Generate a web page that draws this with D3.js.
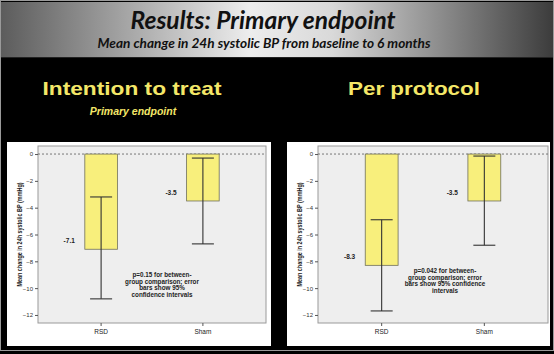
<!DOCTYPE html>
<html>
<head>
<meta charset="UTF-8">
<script src="https://d3js.org/d3.v7.min.js"></script>
<style>
  body { margin: 0; background: #000; }
  svg { display: block; }
  .tick text { font-family: "Liberation Sans", Arial, sans-serif; }
</style>
</head>
<body>
<svg width="554" height="354"></svg>
<script>
// Categories and values
const groups = ["RSD", "Sham"];
const ittMeans = [-7.1, -3.5];
const ittLower = [-10.8, -6.7];
const ittUpper = [-3.2, -0.3];
const ppMeans = [-8.3, -3.5];
const ppLower = [-11.7, -6.8];
const ppUpper = [-4.9, -0.15];
const yTicks = [0, -2, -4, -6, -8, -10, -12];

const ittNote = ["p=0.15 for between-", "group comparison; error", "bars show 95%", "confidence intervals"];
const ppNote = ["p=0.042 for between-", "group comparison; error", "bars show 95% confidence", "intervals"];

const svg = d3.select("svg");

// banner gradient
const defs = svg.append("defs");
const grad = defs.append("linearGradient").attr("id", "banner");
grad.append("stop").attr("offset", "0%").attr("stop-color", "#5c5c5c");
grad.append("stop").attr("offset", "45%").attr("stop-color", "#ededed");
grad.append("stop").attr("offset", "60%").attr("stop-color", "#d9d9d9");
grad.append("stop").attr("offset", "100%").attr("stop-color", "#3c3c3c");

svg.append("rect").attr("x", 0).attr("y", 0).attr("width", 554).attr("height", 354).attr("fill", "#000");
svg.append("rect").attr("x", 1).attr("y", 2).attr("width", 552).attr("height", 55).attr("fill", "url(#banner)");
svg.append("line").attr("x1", 0).attr("x2", 554).attr("y1", 57.5).attr("y2", 57.5).attr("stroke", "#222");

svg.append("text")
  .attr("x", 263).attr("y", 29)
  .attr("text-anchor", "middle")
  .attr("textLength", 265).attr("lengthAdjust", "spacingAndGlyphs")
  .style("font-family", "Lato, 'Open Sans', sans-serif")
  .style("font-weight", "bold").style("font-style", "italic")
  .style("font-size", "25px").attr("fill", "#111")
  .text("Results: Primary endpoint");

svg.append("text")
  .attr("x", 264).attr("y", 48)
  .attr("text-anchor", "middle")
  .attr("textLength", 333).attr("lengthAdjust", "spacingAndGlyphs")
  .style("font-family", "Lato, 'Open Sans', sans-serif")
  .style("font-weight", "bold").style("font-style", "italic")
  .style("font-size", "13px").attr("fill", "#111")
  .text("Mean change in 24h systolic BP from baseline to 6 months");

// panel headings
svg.append("text")
  .attr("x", 132).attr("y", 95).attr("text-anchor", "middle")
  .attr("textLength", 179).attr("lengthAdjust", "spacingAndGlyphs")
  .style("font-family", "'Liberation Sans', Arial, sans-serif")
  .style("font-weight", "bold").style("font-size", "19px")
  .attr("fill", "#f4e768")
  .text("Intention to treat");

svg.append("text")
  .attr("x", 133).attr("y", 115).attr("text-anchor", "middle")
  .style("font-family", "'Liberation Sans', Arial, sans-serif")
  .style("font-weight", "bold").style("font-style", "italic").style("font-size", "10.5px")
  .attr("fill", "#f4e768")
  .text("Primary endpoint");

svg.append("text")
  .attr("x", 414).attr("y", 95).attr("text-anchor", "middle")
  .attr("textLength", 132).attr("lengthAdjust", "spacingAndGlyphs")
  .style("font-family", "'Liberation Sans', Arial, sans-serif")
  .style("font-weight", "bold").style("font-size", "19px")
  .attr("fill", "#f4e768")
  .text("Per protocol");

function drawPanel(px, pw, left, right, means, lower, upper, note, noteX, noteY) {
  const top = 146, bottom = 323;
  svg.append("rect").attr("x", px).attr("y", 142).attr("width", pw).attr("height", 204).attr("fill", "#fff");

  const y = d3.scaleLinear().domain([0.6, -12.6]).range([top, bottom]);
  const x = d3.scaleBand().domain(groups).range([left, right])
    .paddingInner(0.68).paddingOuter(0.46);

  svg.append("rect")
    .attr("x", left).attr("y", top).attr("width", right - left).attr("height", bottom - top)
    .attr("fill", "#eeeeee").attr("stroke", "#9a9a9a").attr("stroke-width", 1);

  // zero reference line
  svg.append("line")
    .attr("x1", left).attr("x2", right).attr("y1", y(0)).attr("y2", y(0))
    .attr("stroke", "#777").attr("stroke-dasharray", "2,2");

  const yAxis = svg.append("g")
    .attr("transform", `translate(${left},0)`)
    .call(d3.axisLeft(y).tickValues(yTicks).tickSize(3).tickPadding(2).tickFormat(d3.format("d")));
  yAxis.select(".domain").remove();
  yAxis.selectAll("line").attr("stroke", "#555");
  yAxis.selectAll("text").style("font-size", "6px").attr("fill", "#333");

  const xAxis = svg.append("g")
    .attr("transform", `translate(0,${bottom})`)
    .call(d3.axisBottom(x).tickSize(3).tickPadding(3));
  xAxis.select(".domain").remove();
  xAxis.selectAll("line").attr("stroke", "#555");
  xAxis.selectAll("text").style("font-size", "6.5px").attr("fill", "#222");

  svg.append("text")
    .attr("transform", `translate(${px + 15},${(top + bottom) / 2}) rotate(-90)`)
    .attr("text-anchor", "middle")
    .attr("textLength", 104).attr("lengthAdjust", "spacingAndGlyphs")
    .style("font-family", "'Liberation Sans', Arial, sans-serif")
    .style("font-size", "6.5px").style("font-weight", "bold").attr("fill", "#222")
    .text("Mean change in 24h systolic BP (mmHg)");

  const rows = groups.map((g, i) => ({ g, m: means[i], lo: lower[i], hi: upper[i] }));

  svg.selectAll(null).data(rows).enter().append("rect")
    .attr("x", d => x(d.g)).attr("y", y(0))
    .attr("width", x.bandwidth()).attr("height", d => y(d.m) - y(0))
    .attr("fill", "#f8ef7c").attr("stroke", "#6f6f5a").attr("stroke-width", 0.8);

  const cx = d => x(d.g) + x.bandwidth() / 2;
  const eb = svg.append("g").attr("stroke", "#333").attr("stroke-width", 1.1);
  eb.selectAll(null).data(rows).enter().append("line")
    .attr("x1", cx).attr("x2", cx).attr("y1", d => y(d.hi)).attr("y2", d => y(d.lo));
  eb.selectAll(null).data(rows).enter().append("line")
    .attr("x1", d => cx(d) - 11).attr("x2", d => cx(d) + 11).attr("y1", d => y(d.hi)).attr("y2", d => y(d.hi));
  eb.selectAll(null).data(rows).enter().append("line")
    .attr("x1", d => cx(d) - 11).attr("x2", d => cx(d) + 11).attr("y1", d => y(d.lo)).attr("y2", d => y(d.lo));

  svg.selectAll(null).data(rows).enter().append("text")
    .attr("x", d => x(d.g) - 10).attr("y", d => y(d.m) - 6)
    .attr("text-anchor", "end")
    .style("font-family", "'Liberation Sans', Arial, sans-serif")
    .style("font-size", "6.5px").style("font-weight", "bold").attr("fill", "#222")
    .text(d => d.m.toFixed(1));

  svg.append("text")
    .attr("text-anchor", "middle")
    .style("font-family", "'Liberation Sans', Arial, sans-serif")
    .style("font-size", "6.3px").style("font-weight", "bold").attr("fill", "#222")
    .selectAll("tspan").data(note).enter().append("tspan")
    .attr("x", noteX).attr("y", (d, i) => noteY + i * 6.6)
    .text(d => d);
}

drawPanel(7, 264, 38, 266, ittMeans, ittLower, ittUpper, ittNote, 162, 277);
drawPanel(287, 263, 318, 548, ppMeans, ppLower, ppUpper, ppNote, 445, 273);

// outer frame
svg.append("rect").attr("x", 0.5).attr("y", 0.5).attr("width", 553).attr("height", 350)
  .attr("fill", "none").attr("stroke", "#9a9a9a");
</script>
</body>
</html>
